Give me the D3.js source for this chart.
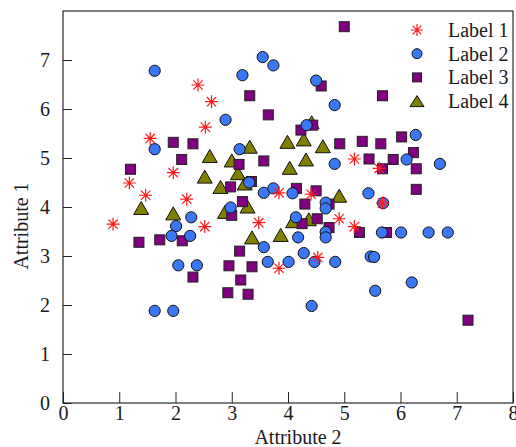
<!DOCTYPE html>
<html>
<head>
<meta charset="utf-8">
<script src="https://cdn.jsdelivr.net/npm/d3@7"></script>
<style>
  body { margin: 0; background: #fff; }
  svg text { font-family: "Liberation Serif", "Times New Roman", serif; fill: #1a1a1a; }
</style>
</head>
<body>
<div id="chart"></div>
<script>

// data, [attribute 2, attribute 1]
var label1 = [[0.89,3.65],[1.18,4.49],[1.47,4.24],[1.55,5.40],[1.96,4.70],[2.20,4.16],
  [2.40,6.49],[2.64,6.15],[2.53,5.63],[2.52,3.60],[3.84,4.29],[4.41,4.26],[3.48,3.68],
  [3.84,2.75],[4.53,2.97],[4.91,3.76],[5.18,3.60],[5.18,4.98],[5.62,4.79],[5.68,4.08]];

var label2 = [[1.63,6.78],[3.55,7.06],[3.74,6.89],[3.19,6.69],[2.89,5.78],[1.63,5.18],
  [3.14,5.18],[3.31,4.50],[3.57,4.29],[3.74,4.38],[4.08,4.28],[2.98,3.99],[2.28,3.79],
  [4.50,6.58],[4.83,6.08],[4.33,5.67],[6.27,5.47],[4.83,4.88],[6.11,4.97],[6.70,4.88],
  [5.43,4.28],[4.67,4.09],[4.67,3.97],[5.69,4.08],[4.14,3.79],[2.01,3.61],[1.93,3.41],
  [2.26,3.41],[3.57,3.18],[3.64,2.88],[4.01,2.88],[2.05,2.81],[2.38,2.81],[1.63,1.88],
  [1.96,1.88],[4.67,3.49],[4.67,3.38],[4.18,3.38],[5.67,3.48],[6.01,3.48],[6.50,3.48],
  [6.84,3.48],[4.28,3.06],[4.47,2.88],[4.84,2.88],[5.47,2.99],[5.53,2.98],[6.20,2.46],
  [5.55,2.29],[4.42,1.98]];

var label3 = [[1.20,4.77],[1.96,5.32],[2.31,5.29],[2.11,4.97],[3.32,6.27],[3.65,5.88],
  [3.57,4.94],[3.13,4.87],[3.35,4.52],[2.98,4.41],[3.19,4.11],[3.00,3.83],[5.00,7.68],
  [4.59,6.47],[5.68,6.27],[4.23,5.57],[4.44,5.67],[4.92,5.29],[5.32,5.34],[5.65,5.29],
  [6.02,5.43],[6.23,5.11],[5.44,4.98],[5.87,4.97],[5.68,4.78],[6.28,4.78],[6.28,4.36],
  [4.15,4.38],[4.50,4.33],[4.30,4.06],[4.73,4.06],[4.52,3.76],[4.25,3.66],[4.73,3.58],
  [5.27,3.48],[3.14,3.10],[2.95,2.80],[3.36,2.78],[3.16,2.51],[2.93,2.25],[3.29,2.22],
  [1.35,3.28],[1.72,3.33],[2.12,3.31],[2.31,2.57],[5.75,3.48],[7.20,1.69]];

var label4 = [[3.32,5.23],[2.61,5.04],[3.00,4.95],[3.11,4.69],[2.52,4.62],[2.80,4.41],
  [3.23,4.48],[1.39,3.98],[1.96,3.87],[2.88,3.90],[3.28,4.01],[4.42,5.73],[3.99,5.33],
  [4.28,5.38],[4.62,5.24],[4.32,4.97],[4.03,4.80],[4.91,4.23],[4.09,3.71],[4.37,3.75],
  [3.36,3.38],[3.87,3.43]];

var seriesNames = ["Label 1", "Label 2", "Label 3", "Label 4"];
var xTicks = [0, 1, 2, 3, 4, 5, 6, 7, 8];
var yTicks = [0, 1, 2, 3, 4, 5, 6, 7];

var W = 516, H = 447;
var FONT = '"Liberation Serif", "Times New Roman", serif';
var margin = {top: 11, right: 3, bottom: 44, left: 63},
    width = W - margin.left - margin.right,
    height = H - margin.top - margin.bottom;

var x = d3.scaleLinear().domain([0, 8]).range([0, width]);
var y = d3.scaleLinear().domain([0, 8]).range([height, 0]);

var svg = d3.select("#chart").append("svg")
    .attr("width", W)
    .attr("height", H)
    .attr("font-family", FONT)
  .append("g")
    .attr("transform", "translate(" + margin.left + "," + margin.top + ")");

// frame
svg.append("rect")
    .attr("x", 0).attr("y", 0)
    .attr("width", width).attr("height", height)
    .attr("fill", "none")
    .attr("stroke", "#000")
    .attr("stroke-width", 1);

var xAxis = d3.axisBottom(x).tickValues(xTicks).tickSizeInner(-11).tickSizeOuter(0).tickPadding(3);
var yAxis = d3.axisLeft(y).tickValues(yTicks).tickSizeInner(-9).tickSizeOuter(0).tickPadding(13);

var gx = svg.append("g")
    .attr("transform", "translate(0," + height + ")")
    .call(xAxis);
var gy = svg.append("g").call(yAxis);

[gx, gy].forEach(function(g) {
    g.attr("font-family", FONT).attr("font-size", 20);
    g.select(".domain").remove();
    g.selectAll("line").attr("stroke", "#222");
    g.selectAll("text").attr("fill", "#1a1a1a");
});

// axis titles
svg.append("text")
    .attr("x", 235)
    .attr("y", height + 41)
    .attr("text-anchor", "middle")
    .style("font-size", "20px")
    .text("Attribute 2");

svg.append("text")
    .attr("transform", "translate(-35," + 215 + ") rotate(-90)")
    .attr("text-anchor", "middle")
    .style("font-size", "20px")
    .text("Attribute 1");

// marker shapes
function asterisk(s) {
    var d = s * 0.72;
    return "M" + (-s) + ",0L" + s + ",0M0," + (-s) + "L0," + s +
           "M" + (-d) + "," + (-d) + "L" + d + "," + d +
           "M" + (-d) + "," + d + "L" + d + "," + (-d);
}
function triangle(w, h) {
    return "M0," + (-h) + "L" + w + "," + h + "L" + (-w) + "," + h + "Z";
}

var styles = [
    {draw: function(g, big) { g.append("path").attr("d", asterisk(big ? 6.5 : 6)).attr("stroke", "#ff1a1a").attr("stroke-width", 1.2).attr("fill", "none"); }},
    {draw: function(g, big) { g.append("circle").attr("r", big ? 5.6 : 5).attr("fill", "#3a78f7").attr("stroke", "#111").attr("stroke-width", 1); }},
    {draw: function(g, big) { var s = big ? 10 : 9; g.append("rect").attr("x", -s/2).attr("y", -s/2).attr("width", s).attr("height", s).attr("fill", "#800080").attr("stroke", "#222").attr("stroke-width", 1); }},
    {draw: function(g, big) { g.append("path").attr("d", big ? triangle(7.5, 6.5) : triangle(7, 5.5)).attr("fill", "#808000").attr("stroke", "#111").attr("stroke-width", 1); }}
];

var allSeries = [label1, label2, label3, label4];
var drawOrder = [3, 2, 1, 0];

drawOrder.forEach(function(i) {
    svg.append("g").selectAll("g.pt")
        .data(allSeries[i])
      .enter().append("g")
        .attr("class", "pt")
        .attr("transform", function(d) { return "translate(" + x(d[0]) + "," + y(d[1]) + ")"; })
        .each(function() { styles[i].draw(d3.select(this), true); });
});

// legend
var legend = svg.append("g").attr("transform", "translate(354,19)");
seriesNames.forEach(function(name, i) {
    var row = legend.append("g").attr("transform", "translate(0," + (i * 23.7) + ")");
    styles[i].draw(row, false);
    row.append("text")
        .attr("x", 31)
        .attr("dy", "0.35em")
        .style("font-size", "20px")
        .text(name);
});

</script>
</body>
</html>
